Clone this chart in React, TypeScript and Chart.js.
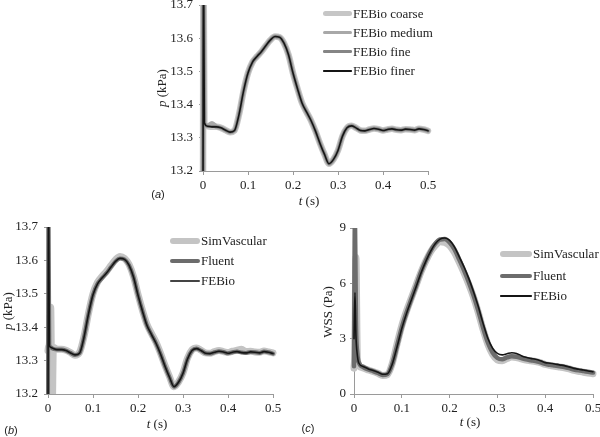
import React, { useEffect, useRef } from 'react';
import { Chart, registerables } from 'chart.js';
Chart.register(...registerables);

// ---------- Panel (a): mesh convergence, pressure ----------
const tA = [0, 0.001, 0.003, 0.01, 0.02, 0.03, 0.04, 0.05, 0.06, 0.07, 0.08, 0.09, 0.10,
  0.11, 0.12, 0.13, 0.14, 0.15, 0.16, 0.17, 0.18, 0.19, 0.20, 0.21, 0.22, 0.23, 0.24, 0.25,
  0.26, 0.27, 0.28, 0.29, 0.30, 0.31, 0.32, 0.33, 0.34, 0.35, 0.36, 0.37, 0.38, 0.39, 0.40,
  0.41, 0.42, 0.43, 0.44, 0.45, 0.46, 0.47, 0.48, 0.49, 0.50];
const febioCoarseA = [13.10, 13.90, 13.345, 13.335, 13.333, 13.333, 13.330, 13.323, 13.317, 13.322, 13.370, 13.440, 13.495,
  13.528, 13.545, 13.560, 13.578, 13.595, 13.605, 13.603, 13.585, 13.550, 13.495, 13.448, 13.405, 13.378, 13.352, 13.320,
  13.283, 13.250, 13.222, 13.235, 13.262, 13.305, 13.330, 13.336, 13.330, 13.322, 13.321, 13.325, 13.328, 13.326, 13.322,
  13.325, 13.327, 13.324, 13.323, 13.326, 13.325, 13.323, 13.327, 13.325, 13.321];
const febioMediumA = [13.10, 13.90, 13.345, 13.336, 13.344, 13.333, 13.330, 13.323, 13.317, 13.322, 13.370, 13.440, 13.495,
  13.528, 13.545, 13.560, 13.578, 13.595, 13.605, 13.603, 13.585, 13.550, 13.495, 13.448, 13.405, 13.378, 13.352, 13.320,
  13.283, 13.250, 13.222, 13.235, 13.262, 13.305, 13.330, 13.336, 13.330, 13.322, 13.321, 13.325, 13.328, 13.326, 13.322,
  13.325, 13.327, 13.324, 13.323, 13.326, 13.325, 13.323, 13.327, 13.325, 13.321];
const febioFineA = [13.10, 13.90, 13.345, 13.335, 13.334, 13.333, 13.330, 13.323, 13.317, 13.322, 13.370, 13.440, 13.495,
  13.528, 13.545, 13.560, 13.578, 13.595, 13.605, 13.603, 13.585, 13.550, 13.495, 13.448, 13.405, 13.378, 13.352, 13.320,
  13.283, 13.250, 13.222, 13.235, 13.262, 13.305, 13.330, 13.336, 13.330, 13.322, 13.321, 13.325, 13.328, 13.326, 13.322,
  13.325, 13.327, 13.324, 13.323, 13.326, 13.325, 13.323, 13.327, 13.325, 13.321];
const febioFinerA = [13.10, 13.90, 13.345, 13.335, 13.333, 13.333, 13.330, 13.323, 13.317, 13.322, 13.370, 13.440, 13.495,
  13.528, 13.545, 13.560, 13.578, 13.595, 13.605, 13.603, 13.585, 13.550, 13.495, 13.448, 13.405, 13.378, 13.352, 13.320,
  13.283, 13.250, 13.222, 13.235, 13.262, 13.305, 13.330, 13.336, 13.330, 13.322, 13.321, 13.325, 13.328, 13.326, 13.322,
  13.325, 13.327, 13.324, 13.323, 13.326, 13.325, 13.323, 13.327, 13.325, 13.321];

// ---------- Panel (b): solver comparison, pressure ----------
const tB = [0, 0.001, 0.003, 0.006, 0.009, 0.012, 0.02, 0.03, 0.04, 0.05, 0.06, 0.07, 0.08, 0.09, 0.10,
  0.11, 0.12, 0.13, 0.14, 0.15, 0.16, 0.17, 0.18, 0.19, 0.20, 0.21, 0.22, 0.23, 0.24, 0.25,
  0.26, 0.27, 0.28, 0.29, 0.30, 0.31, 0.32, 0.33, 0.34, 0.35, 0.36, 0.37, 0.38, 0.39, 0.40,
  0.41, 0.42, 0.43, 0.44, 0.45, 0.46, 0.47, 0.48, 0.49, 0.50];
const simVascularB = [13.33, 13.34, 13.35, 13.46, 13.12, 13.34, 13.334, 13.334, 13.331, 13.324, 13.316, 13.324, 13.372, 13.442, 13.500,
  13.534, 13.552, 13.567, 13.585, 13.602, 13.612, 13.606, 13.588, 13.552, 13.498, 13.450, 13.408, 13.381, 13.355, 13.322,
  13.285, 13.252, 13.222, 13.236, 13.263, 13.307, 13.332, 13.338, 13.331, 13.323, 13.322, 13.327, 13.330, 13.327, 13.324,
  13.328, 13.331, 13.334, 13.327, 13.328, 13.326, 13.325, 13.329, 13.326, 13.323];
const fluentB = [13.15, 13.80, 13.345, 13.340, 13.337, 13.335, 13.333, 13.333, 13.330, 13.323, 13.317, 13.322, 13.370, 13.440, 13.497,
  13.530, 13.547, 13.562, 13.580, 13.597, 13.606, 13.603, 13.586, 13.550, 13.496, 13.448, 13.405, 13.378, 13.352, 13.320,
  13.283, 13.250, 13.222, 13.235, 13.262, 13.305, 13.330, 13.336, 13.330, 13.322, 13.321, 13.325, 13.328, 13.326, 13.322,
  13.325, 13.327, 13.324, 13.323, 13.326, 13.325, 13.323, 13.327, 13.325, 13.321];
const febioB = [13.10, 13.90, 13.345, 13.340, 13.338, 13.336, 13.333, 13.333, 13.330, 13.323, 13.317, 13.322, 13.370, 13.440, 13.497,
  13.530, 13.547, 13.562, 13.580, 13.597, 13.606, 13.603, 13.586, 13.550, 13.496, 13.448, 13.405, 13.378, 13.352, 13.320,
  13.283, 13.250, 13.222, 13.235, 13.262, 13.305, 13.330, 13.336, 13.330, 13.322, 13.321, 13.325, 13.328, 13.326, 13.322,
  13.325, 13.327, 13.324, 13.323, 13.326, 13.325, 13.323, 13.327, 13.325, 13.321];

// ---------- Panel (c): solver comparison, wall shear stress ----------
const tC = [0, 0.002, 0.004, 0.007, 0.01, 0.02, 0.03, 0.04, 0.05, 0.06, 0.07, 0.08, 0.09, 0.10,
  0.11, 0.12, 0.13, 0.14, 0.15, 0.16, 0.17, 0.18, 0.19, 0.20, 0.21, 0.22, 0.23, 0.24, 0.25,
  0.26, 0.27, 0.28, 0.29, 0.30, 0.31, 0.32, 0.33, 0.34, 0.35, 0.36, 0.37, 0.38, 0.39, 0.40,
  0.41, 0.42, 0.43, 0.44, 0.45, 0.46, 0.47, 0.48, 0.49, 0.50];
const simVascularC = [1.4, 2.5, 7.4, 2.0, 1.55, 1.40, 1.30, 1.22, 1.12, 1.00, 1.05, 1.65, 2.7, 3.7,
  4.5, 5.2, 5.9, 6.6, 7.2, 7.7, 8.05, 8.25, 8.22, 8.05, 7.68, 7.15, 6.58, 5.95, 5.25,
  4.42, 3.50, 2.70, 2.15, 1.85, 1.80, 1.92, 2.00, 1.98, 1.90, 1.84, 1.80, 1.76, 1.70, 1.60,
  1.55, 1.50, 1.46, 1.42, 1.36, 1.28, 1.23, 1.18, 1.14, 1.10];
const fluentC = [1.5, 9.6, 4.0, 2.2, 1.72, 1.45, 1.33, 1.24, 1.14, 1.03, 1.08, 1.62, 2.6, 3.6,
  4.42, 5.15, 5.86, 6.6, 7.22, 7.75, 8.15, 8.38, 8.40, 8.22, 7.85, 7.30, 6.72, 6.08, 5.35,
  4.52, 3.60, 2.80, 2.25, 1.95, 1.88, 1.98, 2.05, 2.02, 1.95, 1.88, 1.83, 1.78, 1.72, 1.63,
  1.58, 1.54, 1.50, 1.46, 1.40, 1.33, 1.28, 1.24, 1.20, 1.16];
const febioC = [3.0, 5.5, 3.2, 2.1, 1.68, 1.48, 1.36, 1.27, 1.18, 1.07, 1.10, 1.62, 2.55, 3.55,
  4.38, 5.10, 5.82, 6.55, 7.18, 7.72, 8.15, 8.40, 8.46, 8.33, 7.98, 7.45, 6.90, 6.27, 5.55,
  4.74, 3.83, 3.02, 2.48, 2.20, 2.12, 2.18, 2.24, 2.20, 2.08, 1.99, 1.93, 1.88, 1.80, 1.70,
  1.67, 1.63, 1.58, 1.54, 1.47, 1.39, 1.34, 1.30, 1.25, 1.21];

const xTicks = [0, 0.1, 0.2, 0.3, 0.4, 0.5];
const pTicks = [13.2, 13.3, 13.4, 13.5, 13.6, 13.7];
const wssTicks = [0, 3, 6, 9];

const SERIF = "'Liberation Serif', 'Times New Roman', serif";
const TEXT = '#222';

type Series = { label: string; t: number[]; v: number[]; color: string; width: number; order: number };

type PanelProps = {
  left: number; top: number; width: number; height: number;
  yWidth: number; xHeight: number; padTop: number; padRight: number;
  yTicks: number[]; yDecimals: number; yPad: number; series: Series[];
};

function ChartPanel(p: PanelProps) {
  const ref = useRef<HTMLCanvasElement>(null);
  useEffect(() => {
    const yMin = p.yTicks[0];
    const yMax = p.yTicks[p.yTicks.length - 1];
    const yStep = p.yTicks[1] - p.yTicks[0];
    const chart = new Chart(ref.current as HTMLCanvasElement, {
      type: 'line',
      data: {
        datasets: p.series.map((s) => ({
          label: s.label,
          data: s.t.map((x, i) => ({ x, y: s.v[i] })),
          borderColor: s.color,
          backgroundColor: s.color,
          borderWidth: s.width,
          order: s.order,
          pointRadius: 0,
          fill: false,
          cubicInterpolationMode: 'monotone',
          borderCapStyle: 'round',
          borderJoinStyle: 'round',
          clip: { left: 5, right: 5, top: 0, bottom: 0 },
        })) as any,
      },
      options: {
        animation: false,
        responsive: false,
        devicePixelRatio: 1,
        layout: { padding: { top: p.padTop, right: p.padRight, left: 0, bottom: 0 } },
        plugins: { legend: { display: false }, tooltip: { enabled: false } },
        scales: {
          x: {
            type: 'linear',
            min: xTicks[0],
            max: xTicks[xTicks.length - 1],
            afterFit: (s: any) => { s.height = p.xHeight; },
            afterBuildTicks: (s: any) => { s.ticks = xTicks.map((v) => ({ value: v })); },
            ticks: {
              autoSkip: false,
              maxRotation: 0,
              padding: 3,
              color: TEXT,
              font: { family: SERIF, size: 13 },
              callback: (v: any) => (Number(v) === 0 ? '0' : Number(v).toFixed(1)),
            },
            grid: { drawOnChartArea: false, drawTicks: true, tickLength: 4, color: '#9a9a9a' },
            border: { display: true, color: '#9a9a9a', width: 1 },
          },
          y: {
            type: 'linear',
            min: yMin,
            max: yMax,
            afterFit: (s: any) => { s.width = p.yWidth; },
            afterBuildTicks: (s: any) => { s.ticks = p.yTicks.map((v) => ({ value: v })); },
            ticks: {
              stepSize: yStep,
              autoSkip: false,
              padding: p.yPad,
              color: TEXT,
              font: { family: SERIF, size: 13 },
              callback: (v: any) => Number(v).toFixed(p.yDecimals),
            },
            grid: { drawOnChartArea: false, drawTicks: true, tickLength: 4, color: '#9a9a9a' },
            border: { display: true, color: '#9a9a9a', width: 1 },
          },
        },
      } as any,
    });
    return () => chart.destroy();
  }, []);
  return (
    <canvas
      ref={ref}
      width={p.width}
      height={p.height}
      style={{ position: 'absolute', left: p.left, top: p.top, width: p.width, height: p.height }}
    />
  );
}

type LegendItem = { label: string; color: string; width: number };

function Legend({ x0, x1, ys, items }: { x0: number; x1: number; ys: number[]; items: LegendItem[] }) {
  return (
    <>
      {items.map((it, i) => (
        <React.Fragment key={it.label}>
          <div style={{
            position: 'absolute', left: x0, top: ys[i] - it.width / 2, width: x1 - x0, height: it.width,
            background: it.color, borderRadius: it.width / 2,
          }} />
          <div style={{
            position: 'absolute', left: x1 + 1, top: ys[i] - 9, height: 18, lineHeight: '18px',
            fontFamily: SERIF, fontSize: 13, color: TEXT, whiteSpace: 'nowrap',
          }}>{it.label}</div>
        </React.Fragment>
      ))}
    </>
  );
}

function Label({ x, y, rotate, children, sans }: { x: number; y: number; rotate?: boolean; children: React.ReactNode; sans?: boolean }) {
  return (
    <div style={{
      position: 'absolute', left: x, top: y,
      transform: `translate(-50%, -50%)${rotate ? ' rotate(-90deg)' : ''}`,
      fontFamily: sans ? "'Liberation Sans', Arial, sans-serif" : SERIF,
      fontSize: sans ? 11 : 13, color: TEXT, whiteSpace: 'nowrap', lineHeight: '16px',
    }}>{children}</div>
  );
}

const C_COARSE = '#c6c6c6';
const C_MEDIUM = '#a8a8a8';
const C_FINE = '#858585';
const C_FINER = '#151515';
const C_SIM = '#c4c4c4';
const C_FLUENT = '#6c6c6c';
const C_FEBIO = '#151515';

export default function App() {
  useEffect(() => {
    document.body.style.margin = '0';
  }, []);

  const seriesA: Series[] = [
    { label: 'FEBio coarse', t: tA, v: febioCoarseA, color: C_COARSE, width: 6.5, order: 4 },
    { label: 'FEBio medium', t: tA, v: febioMediumA, color: C_MEDIUM, width: 4.5, order: 3 },
    { label: 'FEBio fine', t: tA, v: febioFineA, color: C_FINE, width: 3, order: 2 },
    { label: 'FEBio finer', t: tA, v: febioFinerA, color: C_FINER, width: 1.6, order: 1 },
  ];
  const seriesB: Series[] = [
    { label: 'SimVascular', t: tB, v: simVascularB, color: C_SIM, width: 7, order: 3 },
    { label: 'Fluent', t: tB, v: fluentB, color: C_FLUENT, width: 4, order: 2 },
    { label: 'FEBio', t: tB, v: febioB, color: C_FEBIO, width: 1.6, order: 1 },
  ];
  const seriesC: Series[] = [
    { label: 'SimVascular', t: tC, v: simVascularC, color: C_SIM, width: 7, order: 3 },
    { label: 'Fluent', t: tC, v: fluentC, color: C_FLUENT, width: 4.5, order: 2 },
    { label: 'FEBio', t: tC, v: febioC, color: C_FEBIO, width: 1.6, order: 1 },
  ];

  return (
    <div style={{ position: 'relative', width: 600, height: 437, overflow: 'hidden', background: '#fff' }}>
      <ChartPanel left={153} top={-10} width={287} height={210} yWidth={50} xHeight={29}
        padTop={15} padRight={12} yTicks={pTicks} yDecimals={1} yPad={6} series={seriesA} />
      <ChartPanel left={0} top={210} width={285} height={210} yWidth={48} xHeight={26}
        padTop={17} padRight={12} yTicks={pTicks} yDecimals={1} yPad={6} series={seriesB} />
      <ChartPanel left={310} top={210} width={295} height={210} yWidth={44} xHeight={26}
        padTop={18} padRight={12} yTicks={wssTicks} yDecimals={0} yPad={4} series={seriesC} />

      <Legend x0={323} x1={352} ys={[13.5, 32.7, 51.7, 71]} items={[
        { label: 'FEBio coarse', color: C_COARSE, width: 5 },
        { label: 'FEBio medium', color: C_MEDIUM, width: 3.5 },
        { label: 'FEBio fine', color: C_FINE, width: 2.5 },
        { label: 'FEBio finer', color: C_FINER, width: 1.5 },
      ]} />
      <Legend x0={170} x1={200} ys={[241, 261, 281]} items={[
        { label: 'SimVascular', color: C_SIM, width: 6 },
        { label: 'Fluent', color: C_FLUENT, width: 4 },
        { label: 'FEBio', color: '#444', width: 1.8 },
      ]} />
      <Legend x0={500} x1={532} ys={[254, 276, 296]} items={[
        { label: 'SimVascular', color: C_SIM, width: 6 },
        { label: 'Fluent', color: C_FLUENT, width: 4.5 },
        { label: 'FEBio', color: C_FEBIO, width: 1.6 },
      ]} />

      <Label x={162} y={88} rotate><i>p</i> (kPa)</Label>
      <Label x={309} y={201}><i>t</i> (s)</Label>
      <Label x={158} y={194} sans>(<i>a</i>)</Label>

      <Label x={8} y={311} rotate><i>p</i> (kPa)</Label>
      <Label x={157} y={424}><i>t</i> (s)</Label>
      <Label x={11} y={430} sans>(<i>b</i>)</Label>

      <Label x={328} y={312} rotate>WSS (Pa)</Label>
      <Label x={470} y={422}><i>t</i> (s)</Label>
      <Label x={308} y={428} sans>(<i>c</i>)</Label>
    </div>
  );
}
